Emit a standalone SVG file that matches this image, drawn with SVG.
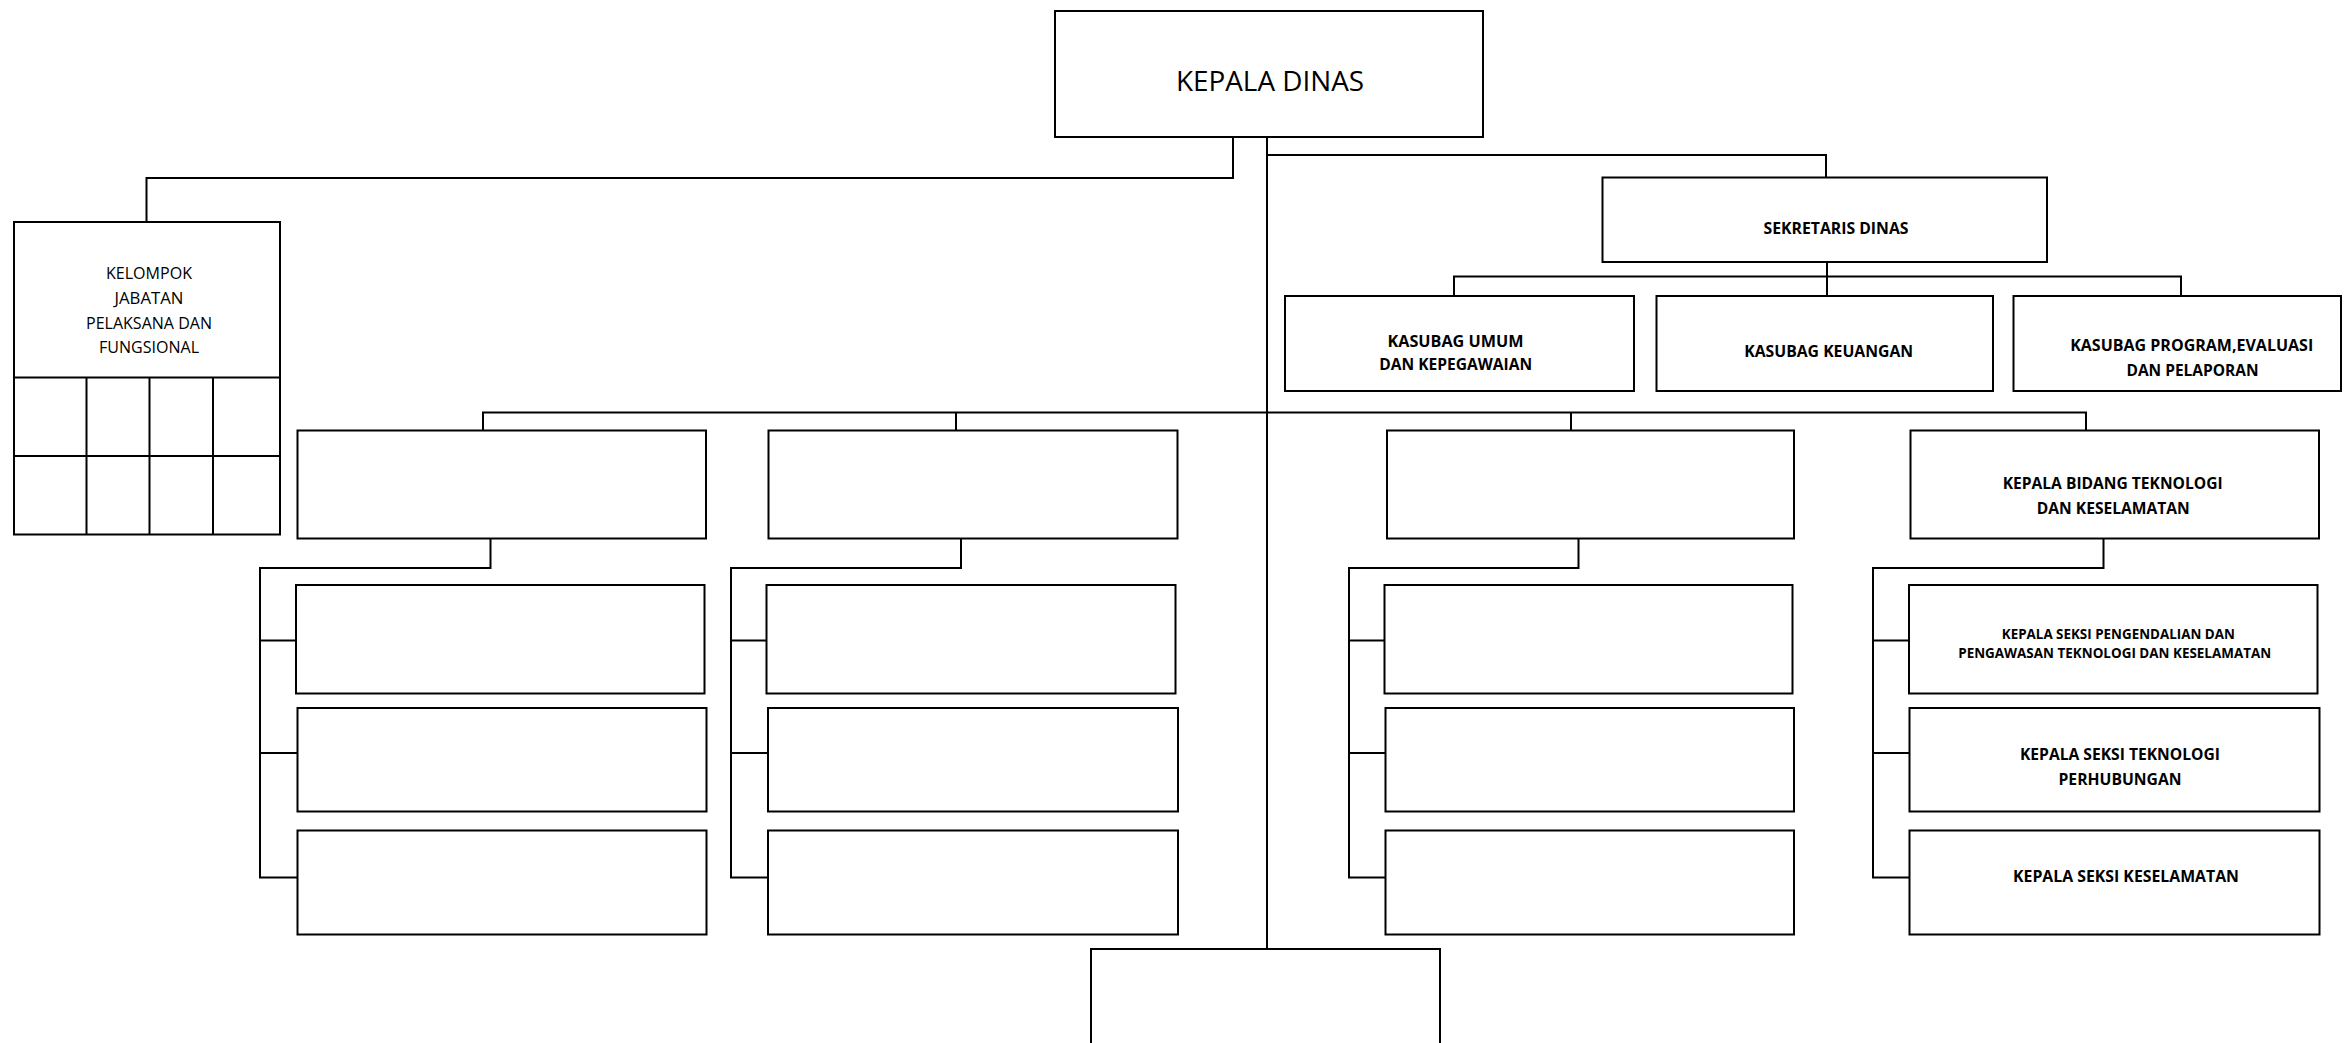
<svg xmlns="http://www.w3.org/2000/svg" width="2344" height="1043" viewBox="0 0 2344 1043">
<style>
.box{fill:#fff;stroke:#000;stroke-width:2}
.ln{fill:none;stroke:#000;stroke-width:2}
.t{font-family:"Open Sans","Liberation Sans",sans-serif;fill:#000;text-anchor:middle}
.b{font-weight:bold;font-size:16.5px}
.s{font-weight:bold;font-size:14.5px}
.r{font-size:17px}
</style>
<rect width="2344" height="1043" fill="#fff"/>
<g id="connectors">
<path class="ln" d="M1267,137 V949"/>
<path class="ln" d="M1233,137 V178 H146.5 V222"/>
<path class="ln" d="M1267,155 H1826 V177.5"/>
<path class="ln" d="M1827,262 V296 M1454,296 V276.5 H2181 V296"/>
<path class="ln" d="M483,430.5 V412.5 H2086 V430.5 M956,412.5 V430.5 M1571,412.5 V430.5"/>
<path class="ln" d="M490.5,538.5 V568 H260 V877.5 H297.5 M260,640.5 H296 M260,753 H297.5"/>
<path class="ln" d="M961,538.5 V568 H731 V877.5 H768 M731,640.5 H766.5 M731,753 H768"/>
<path class="ln" d="M1578.5,538.5 V568 H1349 V877.5 H1385.5 M1349,640.5 H1384.5 M1349,753 H1385.5"/>
<path class="ln" d="M2103.5,538.5 V568 H1873 V877.5 H1909.5 M1873,640.5 H1909 M1873,753 H1909.5"/>
</g>
<g id="kepala-dinas">
<rect class="box" x="1055" y="11" width="428" height="126"/>
<text class="t" x="1270" y="91" font-size="27" textLength="188" lengthAdjust="spacingAndGlyphs">KEPALA DINAS</text>
</g>
<g id="kelompok">
<rect class="box" x="14" y="222" width="266" height="312.5"/>
<path class="ln" d="M14,377.5 H280 M14,456 H280 M86.5,377.5 V534.5 M149.5,377.5 V534.5 M213,377.5 V534.5"/>
<text class="t r" x="149" y="279.3" textLength="86" lengthAdjust="spacingAndGlyphs">KELOMPOK</text>
<text class="t r" x="149" y="304" textLength="69" lengthAdjust="spacingAndGlyphs">JABATAN</text>
<text class="t r" x="149" y="329" textLength="126" lengthAdjust="spacingAndGlyphs">PELAKSANA DAN</text>
<text class="t r" x="149" y="353.3" textLength="100" lengthAdjust="spacingAndGlyphs">FUNGSIONAL</text>
</g>
<g id="sekretaris">
<rect class="box" x="1602.5" y="177.5" width="444.5" height="84.5"/>
<text class="t b" x="1836" y="233.5" textLength="145" lengthAdjust="spacingAndGlyphs">SEKRETARIS DINAS</text>
</g>
<g id="kasubag-umum">
<rect class="box" x="1285" y="296" width="349" height="95"/>
<text class="t b" x="1455.5" y="347.3" textLength="136" lengthAdjust="spacingAndGlyphs">KASUBAG UMUM</text>
<text class="t b" x="1455.7" y="370" textLength="153" lengthAdjust="spacingAndGlyphs">DAN KEPEGAWAIAN</text>
</g>
<g id="kasubag-keuangan">
<rect class="box" x="1656.5" y="296" width="336.5" height="95"/>
<text class="t b" x="1828.7" y="356.7" textLength="169" lengthAdjust="spacingAndGlyphs">KASUBAG KEUANGAN</text>
</g>
<g id="kasubag-program">
<rect class="box" x="2013.5" y="296" width="327.5" height="95"/>
<text class="t b" x="2191.7" y="350.7" textLength="243" lengthAdjust="spacingAndGlyphs">KASUBAG PROGRAM,EVALUASI</text>
<text class="t b" x="2192.5" y="376" textLength="132" lengthAdjust="spacingAndGlyphs">DAN PELAPORAN</text>
</g>
<g id="bidang-1"><rect class="box" x="297.5" y="430.5" width="408.5" height="108"/></g>
<g id="seksi-1a"><rect class="box" x="296" y="585" width="408.5" height="108.5"/></g>
<g id="seksi-1b"><rect class="box" x="297.5" y="708" width="409" height="103.5"/></g>
<g id="seksi-1c"><rect class="box" x="297.5" y="830.5" width="409" height="104"/></g>
<g id="bidang-2"><rect class="box" x="768.5" y="430.5" width="409" height="108"/></g>
<g id="seksi-2a"><rect class="box" x="766.5" y="585" width="409" height="108.5"/></g>
<g id="seksi-2b"><rect class="box" x="768" y="708" width="410" height="103.5"/></g>
<g id="seksi-2c"><rect class="box" x="768" y="830.5" width="410" height="104"/></g>
<g id="bidang-3"><rect class="box" x="1387" y="430.5" width="407" height="108"/></g>
<g id="seksi-3a"><rect class="box" x="1384.5" y="585" width="408" height="108.5"/></g>
<g id="seksi-3b"><rect class="box" x="1385.5" y="708" width="408.5" height="103.5"/></g>
<g id="seksi-3c"><rect class="box" x="1385.5" y="830.5" width="408.5" height="104"/></g>
<g id="bidang-teknologi">
<rect class="box" x="1910.5" y="430.5" width="408.5" height="108"/>
<text class="t b" x="2112.7" y="489.3" textLength="220" lengthAdjust="spacingAndGlyphs">KEPALA BIDANG TEKNOLOGI</text>
<text class="t b" x="2113.3" y="514.3" textLength="153" lengthAdjust="spacingAndGlyphs">DAN KESELAMATAN</text>
</g>
<g id="seksi-pengendalian">
<rect class="box" x="1909" y="585" width="408.5" height="108.5"/>
<text class="t s" x="2118.3" y="638.5" textLength="233" lengthAdjust="spacingAndGlyphs">KEPALA SEKSI PENGENDALIAN DAN</text>
<text class="t s" x="2114.7" y="657.5" textLength="313" lengthAdjust="spacingAndGlyphs">PENGAWASAN TEKNOLOGI DAN KESELAMATAN</text>
</g>
<g id="seksi-teknologi">
<rect class="box" x="1909.5" y="708" width="410" height="103.5"/>
<text class="t b" x="2120" y="759.5" textLength="200" lengthAdjust="spacingAndGlyphs">KEPALA SEKSI TEKNOLOGI</text>
<text class="t b" x="2120" y="784.5" textLength="123" lengthAdjust="spacingAndGlyphs">PERHUBUNGAN</text>
</g>
<g id="seksi-keselamatan">
<rect class="box" x="1909.5" y="830.5" width="410" height="104"/>
<text class="t b" x="2126" y="882" textLength="226" lengthAdjust="spacingAndGlyphs">KEPALA SEKSI KESELAMATAN</text>
</g>
<g id="bottom-box"><rect class="box" x="1091" y="949" width="349" height="120"/></g>
</svg>
